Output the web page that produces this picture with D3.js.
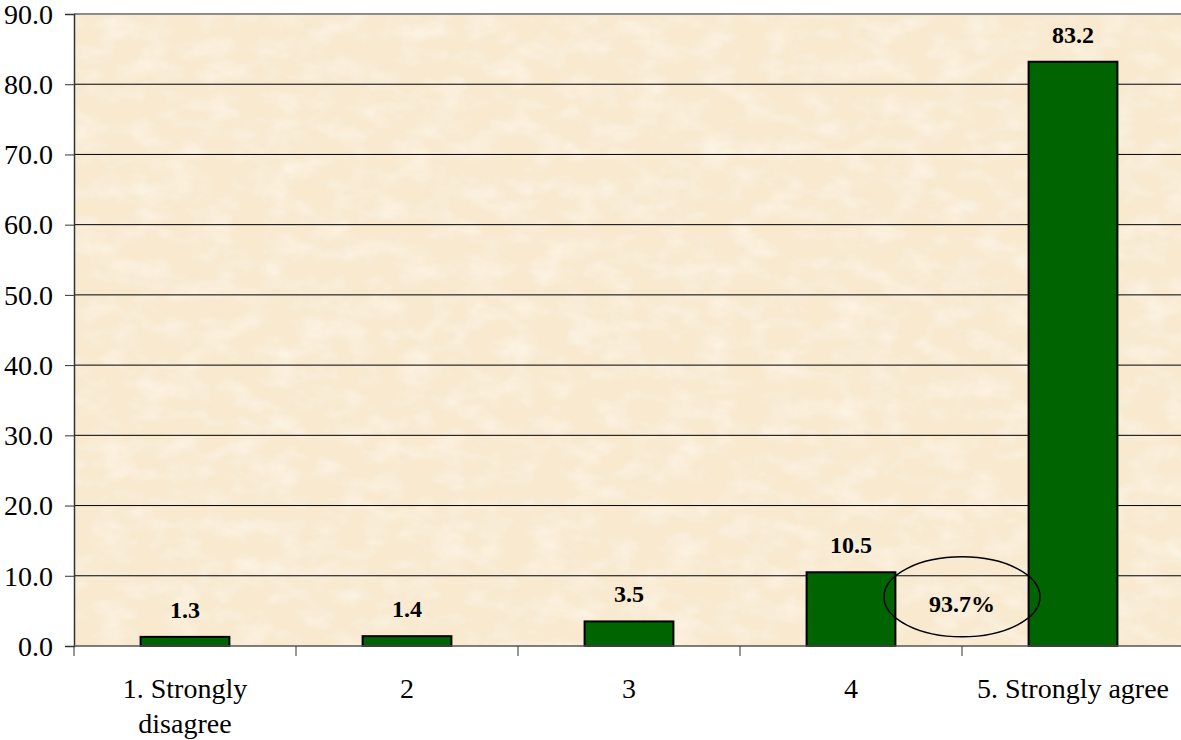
<!DOCTYPE html>
<meta charset="utf-8">
<title>Agreement bar chart</title>
<style>
body { margin: 0; background: #fff; }
text { font-family: "Liberation Serif", "Times New Roman", serif; fill: #000; }
.grid line { stroke: #000; stroke-width: 1px; }
.bar { fill: #006400; stroke: #000; stroke-width: 2px; }
.val { font-size: 24px; font-weight: bold; }
</style>
<body>
<script src="https://d3js.org/d3.v7.min.js"></script>
<script>

var categories = ["1. Strongly disagree", "2", "3", "4", "5. Strongly agree"];
var values = [1.3, 1.4, 3.5, 10.5, 83.2];
var yTicks = [0, 10, 20, 30, 40, 50, 60, 70, 80, 90];
var calloutText = "93.7%";

var width = 1181, height = 740;
var plotL = 74, plotR = 1184, plotT = 14, plotB = 646;

var svg = d3.select("body").append("svg")
    .attr("width", width)
    .attr("height", height);

// parchment texture, fine grain
var defs = svg.append("defs");
var filt = defs.append("filter").attr("id", "paper")
    .attr("x", 0).attr("y", 0).attr("width", "100%").attr("height", "100%");
filt.append("feTurbulence").attr("type", "fractalNoise")
    .attr("baseFrequency", "0.03 0.05").attr("numOctaves", 4).attr("seed", 3).attr("result", "noise");
filt.append("feColorMatrix").attr("in", "noise").attr("type", "matrix")
    .attr("values", "0 0 0 0 1  0 0 0 0 0.98  0 0 0 0 0.93  1.0 0 0 0 -0.4")
    .attr("result", "spots");
filt.append("feComposite").attr("in", "spots").attr("in2", "SourceGraphic").attr("operator", "in");

var x = d3.scaleBand().domain(categories).range([plotL, plotR]).paddingInner(0.6).paddingOuter(0.3);
var xOuter = d3.scaleBand().domain(categories).range([plotL, plotR]);
var y = d3.scaleLinear().domain([0, 90]).range([plotB, plotT]);

svg.append("rect")
    .attr("x", plotL).attr("y", plotT)
    .attr("width", plotR - plotL).attr("height", plotB - plotT)
    .attr("fill", "#f8e9cf");
svg.append("rect")
    .attr("x", plotL).attr("y", plotT)
    .attr("width", plotR - plotL).attr("height", plotB - plotT)
    .attr("fill", "#f8e9cf")
    .attr("filter", "url(#paper)");

// gridlines
svg.append("g").attr("class", "grid")
  .selectAll("line")
  .data(yTicks.slice(1, -1))
  .enter().append("line")
    .attr("x1", plotL).attr("x2", plotR)
    .attr("y1", d => y(d)).attr("y2", d => y(d));

// top border of plot area
svg.append("line")
    .attr("x1", plotL).attr("x2", plotR)
    .attr("y1", plotT).attr("y2", plotT)
    .attr("stroke", "#8c8c8c").attr("stroke-width", 2);

// y axis
var yAxis = svg.append("g")
    .attr("transform", "translate(" + plotL + ",0)")
    .call(d3.axisLeft(y).tickValues(yTicks).tickFormat(d3.format(".1f")).tickSize(9).tickPadding(12));
yAxis.select(".domain").attr("stroke", "#333").attr("stroke-width", 1.5);
yAxis.selectAll(".tick line").attr("stroke", "#333");
yAxis.selectAll(".tick text")
    .style("font-size", "28px")
    .style("font-family", "'Liberation Serif', serif")
    .attr("fill", "#000")
    .attr("dy", "0.33em");

// bars
svg.selectAll(".bar")
  .data(values)
  .enter().append("rect")
    .attr("class", "bar")
    .attr("x", (d, i) => x(categories[i]))
    .attr("width", x.bandwidth())
    .attr("y", d => y(d))
    .attr("height", d => y(0) - y(d));

svg.selectAll(".val")
  .data(values)
  .enter().append("text")
    .attr("class", "val")
    .attr("text-anchor", "middle")
    .attr("x", (d, i) => x(categories[i]) + x.bandwidth() / 2)
    .attr("y", d => y(d) - 19)
    .text(d => d.toFixed(1));

// x axis
var xAxisG = svg.append("g").attr("transform", "translate(0," + plotB + ")");
xAxisG.append("line")
    .attr("x1", plotL).attr("x2", plotR)
    .attr("stroke", "#555").attr("stroke-width", 1.5);
xAxisG.selectAll(".xtick")
  .data(categories.concat(["end"]))
  .enter().append("line")
    .attr("x1", (d, i) => plotL + i * xOuter.step())
    .attr("x2", (d, i) => plotL + i * xOuter.step())
    .attr("y1", 0).attr("y2", 10)
    .attr("stroke", "#333");

var xl = xAxisG.selectAll(".xlab")
  .data(categories)
  .enter().append("text")
    .attr("text-anchor", "middle")
    .style("font-size", "28px")
    .attr("x", d => xOuter(d) + xOuter.bandwidth() / 2)
    .attr("y", 52);
xl.each(function(d) {
  var t = d3.select(this);
  var lines = d === "1. Strongly disagree" ? ["1. Strongly", "disagree"] : [d];
  lines.forEach(function(s, k) {
    t.append("tspan").attr("x", t.attr("x")).attr("dy", k ? 35 : 0).text(s);
  });
});

// callout ellipse between 4 and 5
var cx = xOuter(categories[4]);
svg.append("ellipse")
    .attr("cx", cx).attr("cy", y(7))
    .attr("rx", 78).attr("ry", 40)
    .attr("fill", "none").attr("stroke", "#000").attr("stroke-width", 1.5);
svg.append("text")
    .attr("class", "val")
    .attr("text-anchor", "middle")
    .attr("x", cx).attr("y", y(4.8))
    .text(calloutText);

</script>
</body>
</html>
